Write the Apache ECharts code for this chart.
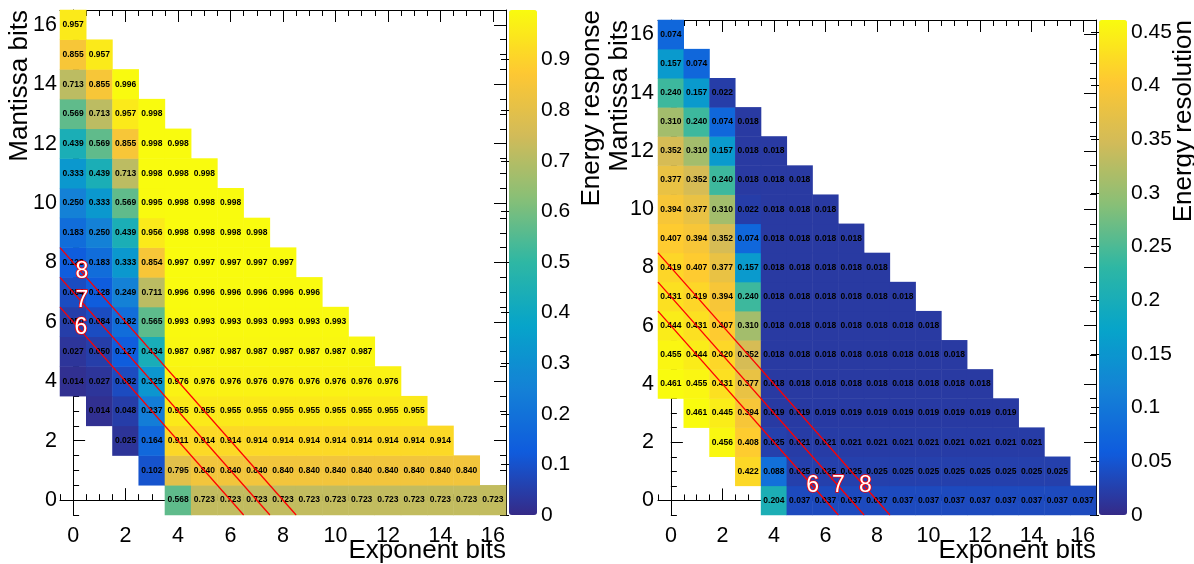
<!DOCTYPE html>
<html>
<head>
<meta charset="utf-8">
<script src="https://cdn.jsdelivr.net/npm/echarts@6/dist/echarts.min.js"></script>
<style>
html,body{margin:0;padding:0;background:#fff;}
#chart{width:1194px;height:564px;}
</style>
</head>
<body>
<div id="chart"></div>
<script>
// ---------- data ----------
const exponentBits = ['0','1','2','3','4','5','6','7','8','9','10','11','12','13','14','15','16'];
const mantissaBits = ['0','1','2','3','4','5','6','7','8','9','10','11','12','13','14','15','16'];
// first exponent-bit column present in each mantissa row (row index = mantissa bits)
const rowFirstExponent = [4,3,2,1,0,0,0,0,0,0,0,0,0,0,0,0,0];

// Energy response, one array per mantissa row (0..16), starting at rowFirstExponent
const responseRows = [
  [0.568,0.723,0.723,0.723,0.723,0.723,0.723,0.723,0.723,0.723,0.723,0.723,0.723],
  [0.102,0.795,0.840,0.840,0.840,0.840,0.840,0.840,0.840,0.840,0.840,0.840,0.840],
  [0.025,0.164,0.911,0.914,0.914,0.914,0.914,0.914,0.914,0.914,0.914,0.914,0.914],
  [0.014,0.048,0.237,0.955,0.955,0.955,0.955,0.955,0.955,0.955,0.955,0.955,0.955],
  [0.014,0.027,0.082,0.325,0.976,0.976,0.976,0.976,0.976,0.976,0.976,0.976,0.976],
  [0.027,0.050,0.127,0.434,0.987,0.987,0.987,0.987,0.987,0.987,0.987,0.987],
  [0.050,0.084,0.182,0.565,0.993,0.993,0.993,0.993,0.993,0.993,0.993],
  [0.084,0.128,0.249,0.711,0.996,0.996,0.996,0.996,0.996,0.996],
  [0.128,0.183,0.333,0.854,0.997,0.997,0.997,0.997,0.997],
  [0.183,0.250,0.439,0.956,0.998,0.998,0.998,0.998],
  [0.250,0.333,0.569,0.995,0.998,0.998,0.998],
  [0.333,0.439,0.713,0.998,0.998,0.998],
  [0.439,0.569,0.855,0.998,0.998],
  [0.569,0.713,0.957,0.998],
  [0.713,0.855,0.996],
  [0.855,0.957],
  [0.957]
];

// Energy resolution, same layout
const resolutionRows = [
  [0.204,0.037,0.037,0.037,0.037,0.037,0.037,0.037,0.037,0.037,0.037,0.037,0.037],
  [0.422,0.088,0.025,0.025,0.025,0.025,0.025,0.025,0.025,0.025,0.025,0.025,0.025],
  [0.456,0.408,0.025,0.021,0.021,0.021,0.021,0.021,0.021,0.021,0.021,0.021,0.021],
  [0.461,0.445,0.394,0.019,0.019,0.019,0.019,0.019,0.019,0.019,0.019,0.019,0.019],
  [0.461,0.455,0.431,0.377,0.018,0.018,0.018,0.018,0.018,0.018,0.018,0.018,0.018],
  [0.455,0.444,0.420,0.352,0.018,0.018,0.018,0.018,0.018,0.018,0.018,0.018],
  [0.444,0.431,0.407,0.310,0.018,0.018,0.018,0.018,0.018,0.018,0.018],
  [0.431,0.419,0.394,0.240,0.018,0.018,0.018,0.018,0.018,0.018],
  [0.419,0.407,0.377,0.157,0.018,0.018,0.018,0.018,0.018],
  [0.407,0.394,0.352,0.074,0.018,0.018,0.018,0.018],
  [0.394,0.377,0.310,0.022,0.018,0.018,0.018],
  [0.377,0.352,0.240,0.018,0.018,0.018],
  [0.352,0.310,0.157,0.018,0.018],
  [0.310,0.240,0.074,0.018],
  [0.240,0.157,0.022],
  [0.157,0.074],
  [0.074]
];

// total-bit cut lines (exponent + mantissa = const)
const totalBitCuts = [6, 7, 8];
// cut-line annotations: [exponent, mantissa, text]
const responseCutLabels = [[0.33, 7.7, '8'], [0.33, 6.7, '7'], [0.30, 5.8, '6']];
const resolutionCutLabels = [[5.5, 0.5, '6'], [6.5, 0.5, '7'], [7.55, 0.5, '8']];

// colour-scale ranges and ticks
const responseScale = { min: 0, max: 0.998, step: 0.1 };
const resolutionScale = { min: 0, max: 0.461, step: 0.05 };

const birdPalette = ['#352a87','#0f5cdd','#1481d6','#06a4ca','#2eb7a4','#87bf77','#d1bb59','#fec832','#f9fb0e'];

// ---------- build ----------
const FONT = 'Liberation Sans, Arial, Helvetica, sans-serif';
const AXIS_COLOR = '#000';

function cellsFrom(rows) {
  const out = [];
  rows.forEach((row, m) => row.forEach((v, k) => out.push([rowFirstExponent[m] + k, m, v])));
  return out;
}

const panels = [
  { rows: responseRows, scale: responseScale, cutLabels: responseCutLabels,
    grid: { left: 60, top: 10, width: 446, height: 505 },
    bar: { left: 509, top: 10, width: 28, height: 505 },
    yLabelMargin: 3, zTitle: 'Energy response', zTitleX: 592, yTitleX: 20 },
  { rows: resolutionRows, scale: resolutionScale, cutLabels: resolutionCutLabels,
    grid: { left: 658, top: 20, width: 438, height: 495 },
    bar: { left: 1099, top: 20, width: 28, height: 495 },
    yLabelMargin: 4, zTitle: 'Energy resolution', zTitleX: 1184, yTitleX: 620 }
];

const grid = [], xAxis = [], yAxis = [], series = [], visualMap = [], graphic = [];

panels.forEach((p, pi) => {
  const gMain = grid.length;
  grid.push(Object.assign({ containLabel: false }, p.grid));
  const gBar = grid.length;
  grid.push(Object.assign({ containLabel: false }, p.bar));

  const xb = xAxis.length, yb = yAxis.length;
  const catCommonTick = { show: true, inside: true, alignWithLabel: true, interval: 1, length: 12, lineStyle: { color: AXIS_COLOR, width: 1 } };
  const valCommon = { type: 'value', min: -0.5, max: 16.5, interval: 0.5,
    axisLine: { show: false }, axisLabel: { show: false }, splitLine: { show: false },
    axisTick: { show: true, inside: true, length: 6, lineStyle: { color: AXIS_COLOR, width: 1 } } };

  xAxis.push({ type: 'category', gridIndex: gMain, data: exponentBits, position: 'bottom', boundaryGap: true,
    axisLine: { show: true, lineStyle: { color: AXIS_COLOR, width: 1 } },
    axisTick: catCommonTick,
    axisLabel: { interval: 1, fontSize: 21.5, color: '#000', margin: 10, fontFamily: FONT },
    splitLine: { show: false } });
  xAxis.push(Object.assign({ gridIndex: gMain, position: 'bottom' }, valCommon));
  xAxis.push(Object.assign({ gridIndex: gMain, position: 'top' }, valCommon));
  xAxis.push({ type: 'category', gridIndex: gMain, data: exponentBits, position: 'top', boundaryGap: true,
    axisLine: { show: true, lineStyle: { color: AXIS_COLOR, width: 1 } },
    axisTick: catCommonTick, axisLabel: { show: false }, splitLine: { show: false } });
  xAxis.push({ type: 'value', gridIndex: gBar, show: false, min: 0, max: 1 });

  yAxis.push({ type: 'category', gridIndex: gMain, data: mantissaBits, position: 'left', boundaryGap: true,
    axisLine: { show: true, lineStyle: { color: AXIS_COLOR, width: 1 } },
    axisTick: catCommonTick,
    axisLabel: { interval: 1, fontSize: 21.5, color: '#000', margin: p.yLabelMargin, fontFamily: FONT },
    splitLine: { show: false } });
  yAxis.push(Object.assign({ gridIndex: gMain, position: 'left' }, valCommon));
  yAxis.push(Object.assign({ gridIndex: gMain, position: 'right' }, valCommon));
  yAxis.push({ type: 'category', gridIndex: gMain, data: mantissaBits, position: 'right', boundaryGap: true,
    axisLine: { show: true, lineStyle: { color: AXIS_COLOR, width: 1 } },
    axisTick: catCommonTick, axisLabel: { show: false }, splitLine: { show: false } });
  yAxis.push({ type: 'value', gridIndex: gBar, position: 'right', min: p.scale.min, max: p.scale.max, interval: p.scale.step,
    axisLine: { show: false }, splitLine: { show: false },
    axisTick: { show: true, inside: true, length: 8, lineStyle: { color: AXIS_COLOR, width: 1 } },
    axisLabel: { fontSize: 21, color: '#000', margin: 4, fontFamily: FONT, showMaxLabel: false } });

  const heatIndex = series.length;
  series.push({
    type: 'heatmap', xAxisIndex: xb, yAxisIndex: yb, data: cellsFrom(p.rows),
    label: { show: true, fontSize: 8.5, fontWeight: 'bold', color: '#000', fontFamily: FONT,
      formatter: (q) => q.value[2].toFixed(3) },
    emphasis: { disabled: true }, itemStyle: { borderWidth: 0 }, progressive: 0, silent: true
  });
  totalBitCuts.forEach((c) => {
    series.push({
      type: 'line', xAxisIndex: xb + 1, yAxisIndex: yb + 1, symbol: 'none', silent: true,
      data: [[-0.5, c + 0.5], [c + 0.5, -0.5]],
      lineStyle: { color: '#ff0000', width: 1.3 }, z: 5
    });
  });
  series.push({
    type: 'scatter', xAxisIndex: xb + 1, yAxisIndex: yb + 1, data: p.cutLabels, symbolSize: 1,
    itemStyle: { color: 'rgba(0,0,0,0)' }, silent: true, z: 6,
    label: { show: true, position: 'inside', formatter: (q) => q.value[2], fontSize: 23, fontFamily: FONT,
      color: '#ffffff', textBorderColor: '#ff0000', textBorderWidth: 1.6, opacity: 1 }
  });
  series.push({ type: 'scatter', xAxisIndex: xb + 4, yAxisIndex: yb + 4, data: [], silent: true });

  visualMap.push({
    type: 'continuous', seriesIndex: heatIndex, dimension: 2, min: p.scale.min, max: p.scale.max,
    inRange: { color: birdPalette }, calculable: false, hoverLink: false, padding: 0,
    left: p.bar.left, top: p.bar.top, itemWidth: p.bar.width, itemHeight: p.bar.height,
    orient: 'vertical', text: null, showLabel: false
  });

  graphic.push({ type: 'text', x: p.zTitleX, y: p.bar.top, rotation: Math.PI / 2,
    style: { text: p.zTitle, fontSize: 26, fontFamily: FONT, fill: '#000', align: 'right', verticalAlign: 'middle' } });
  graphic.push({ type: 'text', x: p.yTitleX, y: p.grid.top, rotation: Math.PI / 2,
    style: { text: 'Mantissa bits', fontSize: 26, fontFamily: FONT, fill: '#000', align: 'right', verticalAlign: 'middle' } });
  graphic.push({ type: 'text', x: p.grid.left + p.grid.width, y: 551,
    style: { text: 'Exponent bits', fontSize: 26, fontFamily: FONT, fill: '#000', align: 'right', verticalAlign: 'middle' } });
});

const chart = echarts.init(document.getElementById('chart'), null, { renderer: 'canvas' });
chart.setOption({
  backgroundColor: '#ffffff',
  animation: false,
  grid, xAxis, yAxis, series, visualMap, graphic
});
</script>
</body>
</html>
